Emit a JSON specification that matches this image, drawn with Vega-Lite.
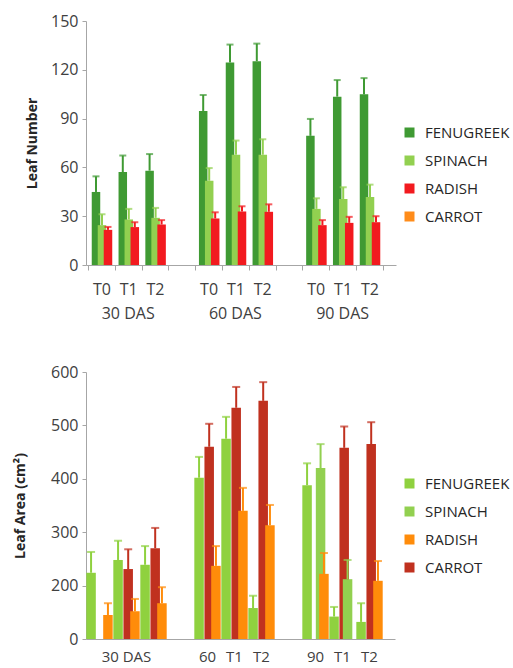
{
  "$schema": "https://vega.github.io/schema/vega-lite/v6.json",
  "padding": {"left": 13, "top": 13, "right": 0, "bottom": 0},
  "config": {
    "font": "Open Sans",
    "view": {"stroke": null},
    "axis": {"domainColor": "#a6a6a6", "tickColor": "#a6a6a6", "labelColor": "#404040", "labelFontSize": 16, "titleColor": "#262626", "titleFontSize": 14, "titleFontWeight": "bold", "grid": false},
    "legend": {"symbolType": "square", "symbolSize": 100, "labelFontSize": 15, "labelColor": "#262626", "labelOffset": 8, "rowPadding": 12, "padding": 0, "symbolStrokeWidth": 0, "symbolOpacity": 1}
  },
  "bounds": "flush",
  "spacing": 107,
  "resolve": {
    "scale": {"x": "independent", "y": "independent", "color": "independent", "xOffset": "independent"},
    "legend": {"color": "independent"}
  },
  "vconcat": [
    {
      "width": 310,
      "height": 244,
      "data": {"values": [
        {"slot": "30 DAS T0", "crop": "FENUGREEK", "value": 44.9, "upper": 54.5},
        {"slot": "30 DAS T0", "crop": "SPINACH", "value": 24.5, "upper": 31.2},
        {"slot": "30 DAS T0", "crop": "RADISH", "value": 21.6, "upper": 23.4},
        {"slot": "30 DAS T1", "crop": "FENUGREEK", "value": 57.1, "upper": 67.3},
        {"slot": "30 DAS T1", "crop": "SPINACH", "value": 28.0, "upper": 34.5},
        {"slot": "30 DAS T1", "crop": "RADISH", "value": 23.3, "upper": 26.3},
        {"slot": "30 DAS T2", "crop": "FENUGREEK", "value": 58.0, "upper": 68.2},
        {"slot": "30 DAS T2", "crop": "SPINACH", "value": 29.0, "upper": 35.1},
        {"slot": "30 DAS T2", "crop": "RADISH", "value": 24.9, "upper": 27.6},
        {"slot": "60 DAS T0", "crop": "FENUGREEK", "value": 94.7, "upper": 104.5},
        {"slot": "60 DAS T0", "crop": "SPINACH", "value": 51.8, "upper": 59.6},
        {"slot": "60 DAS T0", "crop": "RADISH", "value": 28.6, "upper": 32.4},
        {"slot": "60 DAS T1", "crop": "FENUGREEK", "value": 124.5, "upper": 135.5},
        {"slot": "60 DAS T1", "crop": "SPINACH", "value": 67.8, "upper": 76.5},
        {"slot": "60 DAS T1", "crop": "RADISH", "value": 32.9, "upper": 36.1},
        {"slot": "60 DAS T2", "crop": "FENUGREEK", "value": 125.3, "upper": 136.1},
        {"slot": "60 DAS T2", "crop": "SPINACH", "value": 67.8, "upper": 77.3},
        {"slot": "60 DAS T2", "crop": "RADISH", "value": 32.7, "upper": 37.3},
        {"slot": "90 DAS T0", "crop": "FENUGREEK", "value": 79.4, "upper": 89.8},
        {"slot": "90 DAS T0", "crop": "SPINACH", "value": 34.5, "upper": 41.0},
        {"slot": "90 DAS T0", "crop": "RADISH", "value": 24.5, "upper": 27.6},
        {"slot": "90 DAS T1", "crop": "FENUGREEK", "value": 103.5, "upper": 113.7},
        {"slot": "90 DAS T1", "crop": "SPINACH", "value": 40.6, "upper": 47.8},
        {"slot": "90 DAS T1", "crop": "RADISH", "value": 25.9, "upper": 29.6},
        {"slot": "90 DAS T2", "crop": "FENUGREEK", "value": 104.9, "upper": 114.9},
        {"slot": "90 DAS T2", "crop": "SPINACH", "value": 41.8, "upper": 49.4},
        {"slot": "90 DAS T2", "crop": "RADISH", "value": 26.3, "upper": 30.0}
      ]},
      "encoding": {
        "xOffset": {"field": "crop", "type": "nominal", "scale": {"domain": ["FENUGREEK", "SPINACH", "RADISH"], "paddingInner": 0, "paddingOuter": 0.733, "align": 0.57}},
        "color": {
          "field": "crop", "type": "nominal",
          "scale": {"domain": ["FENUGREEK", "SPINACH", "RADISH", "CARROT"], "range": ["#3f9a33", "#92d050", "#f21a1f", "#ff8c1a"]},
          "legend": {"title": null, "orient": "none", "legendX": 316, "legendY": 104}
        }
      },
      "resolve": {"axis": {"x": "independent"}},
      "layer": [
        {
          "mark": {"type": "bar", "width": 8.5},
          "encoding": {
            "x": {
              "field": "slot", "type": "nominal",
              "scale": {"domain": ["30 DAS T0", "30 DAS T1", "30 DAS T2", "gap1", "60 DAS T0", "60 DAS T1", "60 DAS T2", "gap2", "90 DAS T0", "90 DAS T1", "90 DAS T2"], "paddingInner": 0, "paddingOuter": 0.283, "align": 0.13},
              "axis": {"title": null, "labelAngle": 0, "tickBand": "extent", "tickSize": 5, "labelPadding": 11, "labelOverlap": false,
                       "labelExpr": "isValid(datum.value) && indexof('' + datum.value, 'gap') < 0 ? slice('' + datum.value, -2) : ''"}
            },
            "y": {"field": "value", "type": "quantitative", "scale": {"domain": [0, 150], "nice": false},
                  "axis": {"title": "Leaf Number", "values": [0, 15, 30, 45, 60, 75, 90, 105, 120, 135, 150], "tickSize": 4, "labelPadding": 4, "titlePadding": 11,
                           "labelExpr": "datum.value % 30 == 0 ? datum.label : ''"}}
          }
        },
        {
          "mark": {"type": "rule", "strokeWidth": 2},
          "encoding": {
            "x": {"field": "slot", "type": "nominal", "axis": null},
            "y": {"field": "value", "type": "quantitative"}, "y2": {"field": "upper"}
          }
        },
        {
          "mark": {"type": "tick", "thickness": 2, "size": 7},
          "encoding": {
            "x": {"field": "slot", "type": "nominal",
                  "axis": {"title": null, "orient": "bottom", "offset": 23, "domain": false, "ticks": false, "labelAngle": 0, "labelPadding": 17, "labelOverlap": false,
                           "labelExpr": "isValid(datum.value) && slice('' + datum.value, -2) == 'T1' ? slice('' + datum.value, 0, -3) : ''"}},
            "y": {"field": "upper", "type": "quantitative"}
          }
        }
      ]
    },
    {
      "width": 309,
      "height": 267,
      "data": {"values": [
        {"slot": "30 DAS T0", "crop": "FENUGREEK", "value": 224, "upper": 263},
        {"slot": "30 DAS T0", "crop": "RADISH", "value": 145, "upper": 167},
        {"slot": "30 DAS T1", "crop": "FENUGREEK", "value": 248, "upper": 284},
        {"slot": "30 DAS T1", "crop": "CARROT", "value": 231, "upper": 268},
        {"slot": "30 DAS T1", "crop": "RADISH", "value": 152, "upper": 175},
        {"slot": "30 DAS T2", "crop": "FENUGREEK", "value": 239, "upper": 274},
        {"slot": "30 DAS T2", "crop": "CARROT", "value": 270, "upper": 308},
        {"slot": "30 DAS T2", "crop": "RADISH", "value": 167, "upper": 197},
        {"slot": "60 DAS T0", "crop": "FENUGREEK", "value": 402, "upper": 441},
        {"slot": "60 DAS T0", "crop": "CARROT", "value": 460, "upper": 503},
        {"slot": "60 DAS T0", "crop": "RADISH", "value": 237, "upper": 274},
        {"slot": "60 DAS T1", "crop": "FENUGREEK", "value": 475, "upper": 516},
        {"slot": "60 DAS T1", "crop": "CARROT", "value": 533, "upper": 572},
        {"slot": "60 DAS T1", "crop": "RADISH", "value": 340, "upper": 383},
        {"slot": "60 DAS T2", "crop": "FENUGREEK", "value": 158, "upper": 181},
        {"slot": "60 DAS T2", "crop": "CARROT", "value": 546, "upper": 581},
        {"slot": "60 DAS T2", "crop": "RADISH", "value": 313, "upper": 351},
        {"slot": "90 DAS T0", "crop": "FENUGREEK", "value": 388, "upper": 429},
        {"slot": "90 DAS T0", "crop": "SPINACH", "value": 420, "upper": 465},
        {"slot": "90 DAS T0", "crop": "RADISH", "value": 222, "upper": 261},
        {"slot": "90 DAS T1", "crop": "FENUGREEK", "value": 142, "upper": 160},
        {"slot": "90 DAS T1", "crop": "CARROT", "value": 458, "upper": 498},
        {"slot": "90 DAS T1", "crop": "SPINACH", "value": 212, "upper": 248},
        {"slot": "90 DAS T2", "crop": "FENUGREEK", "value": 132, "upper": 167},
        {"slot": "90 DAS T2", "crop": "CARROT", "value": 465, "upper": 506},
        {"slot": "90 DAS T2", "crop": "RADISH", "value": 209, "upper": 246}
      ]},
      "encoding": {
        "x": {
          "field": "slot", "type": "nominal",
          "scale": {"domain": ["30 DAS T0", "30 DAS T1", "30 DAS T2", "gap1", "60 DAS T0", "60 DAS T1", "60 DAS T2", "gap2", "90 DAS T0", "90 DAS T1", "90 DAS T2"], "paddingInner": 0, "paddingOuter": 0.222, "align": 0},
          "axis": {"title": null, "labelAngle": 0, "ticks": false, "tickSize": 0, "labelPadding": 10, "labelFontSize": 15, "labelOverlap": false,
                   "labelExpr": "!isValid(datum.value) || indexof('' + datum.value, 'gap') >= 0 ? '' : (indexof('' + datum.value, '30 DAS') == 0 ? (slice('' + datum.value, -2) == 'T1' ? '30 DAS' : '') : (slice('' + datum.value, -2) == 'T0' ? slice('' + datum.value, 0, 2) : slice('' + datum.value, -2)))"}
        },
        "xOffset": {"field": "crop", "type": "nominal", "scale": {"domain": ["FENUGREEK", "pad1", "pad2", "CARROT", "SPINACH", "RADISH"], "paddingInner": 0, "paddingOuter": 1.09, "align": 0.5}},
        "color": {
          "field": "crop", "type": "nominal",
          "scale": {"domain": ["FENUGREEK", "SPINACH", "RADISH", "CARROT"], "range": ["#8fd13f", "#92d050", "#ff8c0a", "#c0311f"]},
          "legend": {"title": null, "orient": "none", "legendX": 316, "legendY": 104}
        }
      },
      "layer": [
        {
          "mark": {"type": "bar", "width": 9.5},
          "encoding": {
            "y": {"field": "value", "type": "quantitative", "scale": {"domain": [100, 600], "nice": false, "zero": false},
                  "axis": {"title": "Leaf Area (cm²)", "values": [100, 150, 200, 250, 300, 350, 400, 450, 500, 550, 600], "tickSize": 4, "labelPadding": 4, "titlePadding": 23,
                           "labelExpr": "datum.value == 100 ? '0' : (datum.value % 100 == 0 ? datum.label : '')"}},
            "y2": {"datum": 100}
          }
        },
        {
          "mark": {"type": "rule", "strokeWidth": 2},
          "encoding": {"y": {"field": "value", "type": "quantitative"}, "y2": {"field": "upper"}}
        },
        {
          "mark": {"type": "tick", "thickness": 2, "size": 8},
          "encoding": {"y": {"field": "upper", "type": "quantitative"}}
        }
      ]
    }
  ]
}
